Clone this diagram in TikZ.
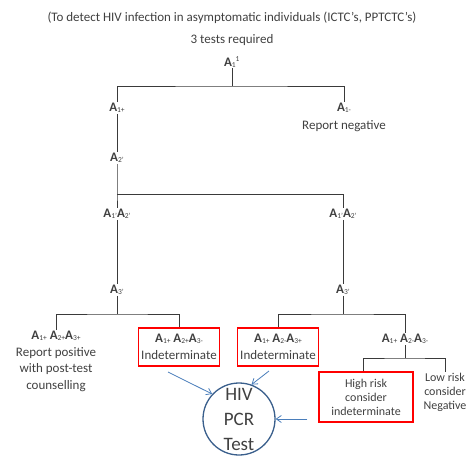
\documentclass[tikz,border=0pt]{standalone}
\usepackage{fontspec}
\setmainfont{Carlito}
\usetikzlibrary{arrows.meta}
\definecolor{txt}{HTML}{404040}
\definecolor{ln}{HTML}{3A3A3A}
\definecolor{arr}{HTML}{4A7EBB}
\definecolor{circ}{HTML}{3A5F8C}
\definecolor{redb}{HTML}{FF0000}
\newcommand{\Sb}[1]{{\fontsize{7.5}{7.5}\selectfont\raisebox{-1pt}{#1}}}
\newcommand{\Al}[1]{\textbf{A}\Sb{#1}}
\begin{document}
\begin{tikzpicture}[x=1pt,y=-1pt,
  every node/.style={text=txt,font=\fontsize{13}{16.5}\selectfont},
  lab/.style={inner sep=1pt},
  leaf/.style={align=center,inner sep=1pt,anchor=north},
  redbox/.style={draw=redb,line width=1.4pt,align=center,inner sep=1pt,minimum width=81pt,minimum height=38pt},
  tree/.style={draw=ln,line width=0.9pt},
  bluearr/.style={draw=arr,line width=0.8pt,-{Straight Barb[length=5pt,width=7pt]}}]
\useasboundingbox (0,0) rectangle (468,455);
\node (title) at (232,18) {(To detect HIV infection in asymptomatic individuals (ICTC's, PPTCTC's)};
\node (req) at (232,40) {3 tests required};
\node[lab] (A11) at (232,62) {\textbf{A}\Sb{1}\textsuperscript{\fontsize{7.5}{7.5}\selectfont 1}};
\node[lab] (A1p) at (117,108) {\Al{1+}};
\node[lab] (A1n) at (344,108) {\Al{1-}};
\node[lab] (rneg) at (344,126) {Report negative};
\node[lab] (A2p) at (117,158) {\Al{2'}};
\node[lab] (A12l) at (117,214) {\Al{1'}\Al{2'}};
\node[lab] (A12r) at (343,214) {\Al{1'}\Al{2'}};
\node[lab] (A3l) at (117,290) {\Al{3'}};
\node[lab] (A3r) at (343,290) {\Al{3'}};
\coordinate (j1) at (232,86);
\coordinate (j2) at (117,194);
\coordinate (j3) at (117,314);
\coordinate (j4) at (343,314);
\coordinate (j5) at (405,358);
\path[tree] (A11) -- (j1);
\path[tree] (A1p.north) |- (j1) -| (A1n.north);
\path[tree] (A1p) -- (A2p);
\path[tree] (A2p) -- (j2) -- (A12l);
\path[tree] (j2) -| (A12r.north);
\path[tree] (A12l) -- (A3l);
\path[tree] (A12r) -- (A3r);
% bottom left
\node[leaf] (lpos) at (56,330) {\Al{1+} \Al{2+}\Al{3+}\\Report positive\\with post-test\\counselling};
\node[redbox] (ind1) at (179,347) {\Al{1+} \Al{2+}\Al{3-}\\Indeterminate};
\path[tree] (A3l) -- (j3);
\path[tree] (lpos.north) |- (j3) -| (ind1.north);
% bottom right
\node[redbox] (ind2) at (278,347) {\Al{1+} \Al{2-}\Al{3+}\\Indeterminate};
\node[lab] (A123n) at (405,339) {\Al{1+} \Al{2-}\Al{3-}};
\path[tree] (A3r) -- (j4);
\path[tree] (ind2.north) |- (j4) -| (A123n.north);
\node[redbox,minimum width=94pt,minimum height=50pt,font=\fontsize{12}{14}\selectfont] (high) at (366,397) {High risk\\consider\\indeterminate};
\node[align=center,inner sep=1pt,anchor=north,font=\fontsize{12}{14}\selectfont] (low) at (445,372) {Low risk\\consider\\Negative};
\path[tree] (A123n) -- (j5);
\path[tree] (high.north -| 363,0) |- (j5) -| (low.north);
% circle
\node[circle,draw=circ,line width=1.3pt,minimum size=72pt,align=center,inner sep=0pt,font=\fontsize{19}{25}\selectfont] (pcr) at (239,419) {HIV\\PCR\\Test};
\coordinate (a1) at (168,372);
\coordinate (a2) at (269,371);
\draw[bluearr] (a1) -- (pcr.137);
\draw[bluearr] (a2) -- (pcr.70);
\draw[bluearr] (high.west |- pcr.east) ++(-11,0) -- (pcr.east);
\end{tikzpicture}
\end{document}
